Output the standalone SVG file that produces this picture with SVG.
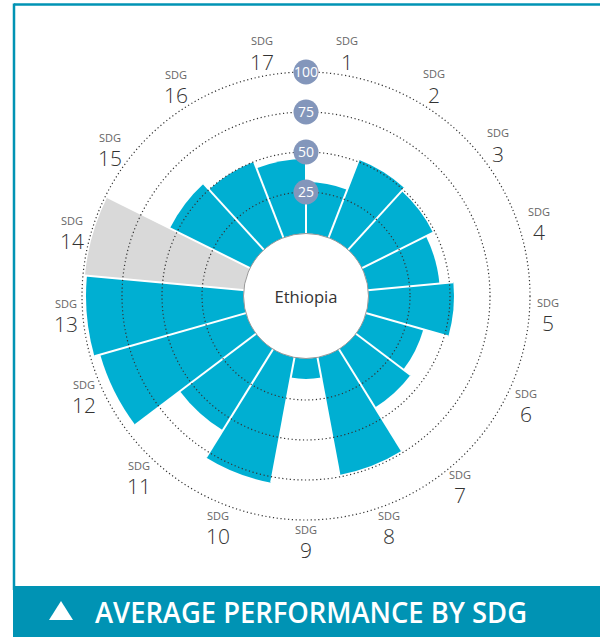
<svg xmlns="http://www.w3.org/2000/svg" width="600" height="637" viewBox="0 0 600 637">
<style>
.bar{fill:#00afd2}
.na{fill:#d9d9d9}
.sep{stroke:#fff;stroke-width:2;fill:none}
.grid{fill:none;stroke:#333;stroke-width:1.2;stroke-dasharray:1.2 2.6}
.badge circle{fill:#8396bb}
.badge text{fill:#fff;font-family:"Open Sans","Noto Sans",sans-serif;font-size:14px;text-anchor:middle}
.lbl text{font-family:"Open Sans","Noto Sans",sans-serif;text-anchor:middle}
.s{font-size:11px;fill:#666}
.n{font-size:21px;fill:#333;font-weight:300}
</style>
<rect width="600" height="637" fill="#fff"/>
<g id="frame">
<line x1="14" y1="4.5" x2="600" y2="4.5" stroke="#0093b4" stroke-width="2.5"/>
<line x1="14" y1="3.5" x2="14" y2="590" stroke="#0093b4" stroke-width="2.5"/>
</g>
<g id="bars">
<g id="bar1"><path class="bar" d="M306 296 L306 182 A114 114 0 0 1 347.18 189.70 Z"/></g>
<g id="bar2"><path class="bar" d="M306 296 L358.74 159.86 A146 146 0 0 1 404.36 188.10 Z"/></g>
<g id="bar3"><path class="bar" d="M306 296 L401.67 191.06 A142 142 0 0 1 433.11 232.70 Z"/></g>
<g id="bar4"><path class="bar" d="M306 296 L425.95 236.27 A134 134 0 0 1 439.43 283.64 Z"/></g>
<g id="bar5"><path class="bar" d="M306 296 L453.37 282.34 A148 148 0 0 1 448.35 336.50 Z"/></g>
<g id="bar6"><path class="bar" d="M306 296 L423.34 329.39 A122 122 0 0 1 403.36 369.52 Z"/></g>
<g id="bar7"><path class="bar" d="M306 296 L410.54 374.94 A131 131 0 0 1 374.96 407.38 Z"/></g>
<g id="bar8"><path class="bar" d="M306 296 L401.81 450.74 A182 182 0 0 1 339.44 474.90 Z"/></g>
<g id="bar9"><path class="bar" d="M306 296 L321.25 377.59 A83 83 0 0 1 290.75 377.59 Z"/></g>
<g id="bar10"><path class="bar" d="M306 296 L271.09 482.76 A190 190 0 0 1 205.98 457.54 Z"/></g>
<g id="bar11"><path class="bar" d="M306 296 L222.82 430.33 A158 158 0 0 1 179.91 391.22 Z"/></g>
<g id="bar12"><path class="bar" d="M306 296 L135.22 424.96 A214 214 0 0 1 100.17 354.56 Z"/></g>
<g id="bar13"><path class="bar" d="M306 296 L94.40 356.21 A220 220 0 0 1 86.94 275.70 Z"/></g>
<g id="bar14"><path class="na" d="M306 296 L84.95 275.52 A222 222 0 0 1 107.27 197.05 Z"/></g>
<g id="bar15"><path class="bar" d="M306 296 L169.94 228.25 A152 152 0 0 1 203.60 183.67 Z"/></g>
<g id="bar16"><path class="bar" d="M306 296 L208.99 189.58 A144 144 0 0 1 253.98 161.72 Z"/></g>
<g id="bar17"><path class="bar" d="M306 296 L256.51 168.25 A137 137 0 0 1 306 159 Z"/></g>
</g>
<g id="separators" class="sep">
<line x1="306" y1="296" x2="306" y2="158"/>
<line x1="306" y1="296" x2="358.74" y2="159.86"/>
<line x1="306" y1="296" x2="404.36" y2="188.10"/>
<line x1="306" y1="296" x2="433.11" y2="232.70"/>
<line x1="306" y1="296" x2="453.37" y2="282.34"/>
<line x1="306" y1="296" x2="448.35" y2="336.50"/>
<line x1="306" y1="296" x2="410.54" y2="374.94"/>
<line x1="306" y1="296" x2="401.81" y2="450.74"/>
<line x1="306" y1="296" x2="339.44" y2="474.90"/>
<line x1="306" y1="296" x2="271.09" y2="482.76"/>
<line x1="306" y1="296" x2="205.98" y2="457.54"/>
<line x1="306" y1="296" x2="135.22" y2="424.96"/>
<line x1="306" y1="296" x2="94.40" y2="356.21"/>
<line x1="306" y1="296" x2="84.95" y2="275.52"/>
<line x1="306" y1="296" x2="107.27" y2="197.05"/>
<line x1="306" y1="296" x2="203.60" y2="183.67"/>
<line x1="306" y1="296" x2="253.98" y2="161.72"/>
</g>
<g id="grid">
<circle class="grid" cx="306" cy="296" r="104"/>
<circle class="grid" cx="306" cy="296" r="144"/>
<circle class="grid" cx="306" cy="296" r="184"/>
<circle class="grid" cx="306" cy="296" r="224"/>
</g>
<g id="center">
<circle cx="306" cy="296" r="62.5" fill="#fff" stroke="#999" stroke-width="1"/>
<text x="306" y="303" font-family="'Open Sans','Noto Sans',sans-serif" font-size="17" fill="#333" text-anchor="middle" textLength="63" lengthAdjust="spacingAndGlyphs">Ethiopia</text>
</g>
<g id="badges" class="badge">
<g id="b25"><circle cx="306" cy="192" r="12.5"/><text x="306" y="197">25</text></g>
<g id="b50"><circle cx="306" cy="152" r="12.5"/><text x="306" y="157">50</text></g>
<g id="b75"><circle cx="306" cy="112" r="12.5"/><text x="306" y="117">75</text></g>
<g id="b100"><circle cx="306" cy="72" r="12.5"/><text x="306" y="77" font-size="13">100</text></g>
</g>
<g id="labels" class="lbl">
<g id="l1"><text class="s" x="347" y="45">SDG</text><text class="n" x="347" y="70">1</text></g>
<g id="l2"><text class="s" x="434" y="78">SDG</text><text class="n" x="434" y="103">2</text></g>
<g id="l3"><text class="s" x="498" y="137">SDG</text><text class="n" x="498" y="162">3</text></g>
<g id="l4"><text class="s" x="539" y="216">SDG</text><text class="n" x="539" y="240">4</text></g>
<g id="l5"><text class="s" x="548" y="307">SDG</text><text class="n" x="548" y="331">5</text></g>
<g id="l6"><text class="s" x="526" y="398">SDG</text><text class="n" x="526" y="422">6</text></g>
<g id="l7"><text class="s" x="460" y="479">SDG</text><text class="n" x="460" y="503">7</text></g>
<g id="l8"><text class="s" x="389" y="520">SDG</text><text class="n" x="389" y="544">8</text></g>
<g id="l9"><text class="s" x="306" y="534">SDG</text><text class="n" x="306" y="558">9</text></g>
<g id="l10"><text class="s" x="218" y="520">SDG</text><text class="n" x="218" y="544">10</text></g>
<g id="l11"><text class="s" x="139" y="470">SDG</text><text class="n" x="139" y="494">11</text></g>
<g id="l12"><text class="s" x="84" y="389">SDG</text><text class="n" x="84" y="413">12</text></g>
<g id="l13"><text class="s" x="66" y="308">SDG</text><text class="n" x="66" y="332">13</text></g>
<g id="l14"><text class="s" x="72" y="225">SDG</text><text class="n" x="72" y="249">14</text></g>
<g id="l15"><text class="s" x="110" y="142">SDG</text><text class="n" x="110" y="166">15</text></g>
<g id="l16"><text class="s" x="176" y="79">SDG</text><text class="n" x="176" y="103">16</text></g>
<g id="l17"><text class="s" x="262" y="45">SDG</text><text class="n" x="262" y="70">17</text></g>
</g>
<g id="banner">
<rect x="13" y="586" width="587" height="51" fill="#0093b4"/>
<polygon points="49,620 61,601 73,620" fill="#fff"/>
<text x="95" y="623" font-family="'Open Sans','Noto Sans',sans-serif" font-weight="600" font-size="29" fill="#fff" textLength="432" lengthAdjust="spacingAndGlyphs">AVERAGE PERFORMANCE BY SDG</text>
</g>
</svg>
